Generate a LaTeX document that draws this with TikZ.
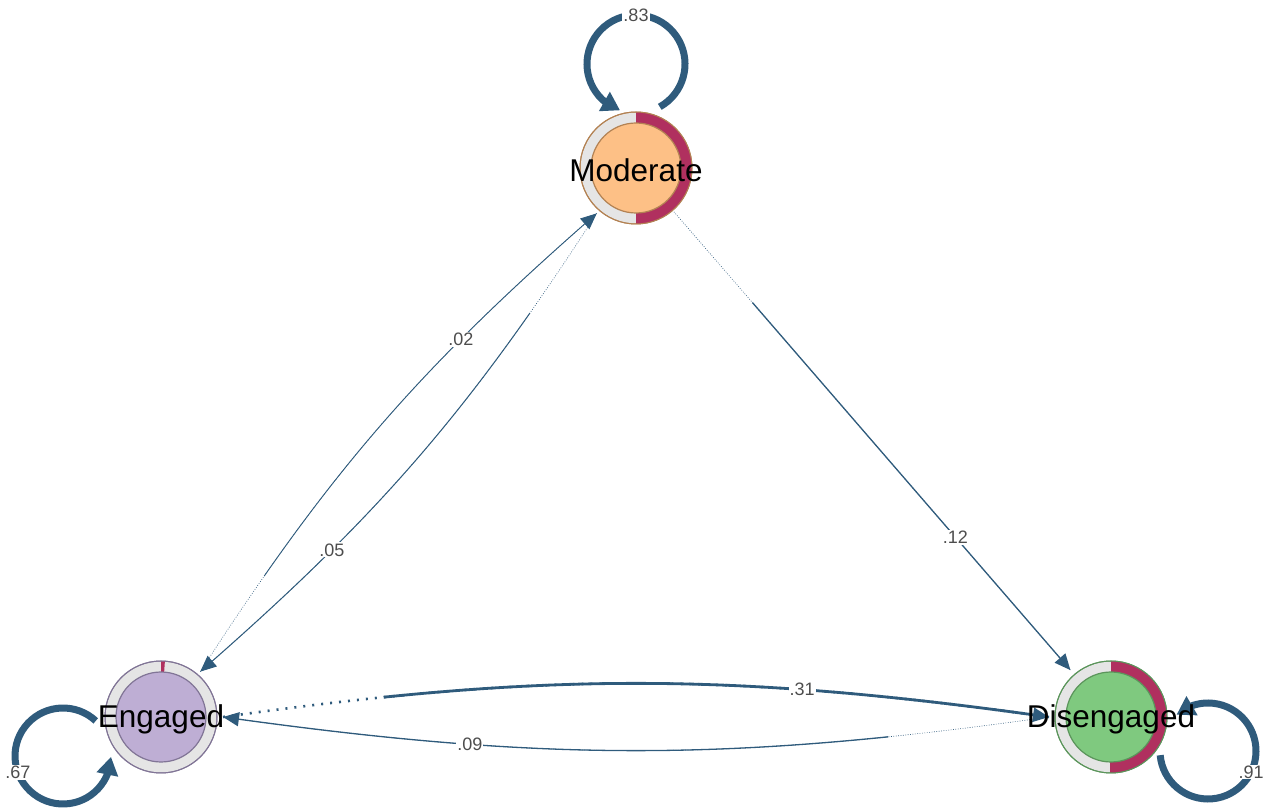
\documentclass[tikz,border=0pt]{standalone}
\usepackage{fontspec}
\setmainfont{Liberation Sans}
\usetikzlibrary{calc,arrows.meta,bending}
\definecolor{edgecol}{HTML}{2F5B7C}
\definecolor{piered}{HTML}{B0305F}
\definecolor{ringgray}{HTML}{E5E5E5}
\definecolor{lblgray}{HTML}{4D4D4D}
\definecolor{Mfill}{HTML}{FDC086}
\definecolor{Mbord}{HTML}{B38253}
\definecolor{Efill}{HTML}{BEAED4}
\definecolor{Ebord}{HTML}{817596}
\definecolor{Dfill}{HTML}{7FC97F}
\definecolor{Dbord}{HTML}{5B955B}
\begin{document}
\begin{tikzpicture}[x=1pt,y=1pt,
  ring/.style={circle, minimum size=112pt, inner sep=0pt, outer sep=0pt, fill=ringgray, draw=#1, line width=1pt},
  core/.style={circle, minimum size=90pt, inner sep=0pt, outer sep=0pt, draw=#1, line width=1.2pt},
  statetext/.style={font=\fontsize{31.5}{36}\selectfont, text=black, inner sep=0pt, yshift=-2.5pt},
  lbl/.style={font=\fontsize{18}{20}\selectfont, text=lblgray, fill=white, inner sep=1pt},
  tipS/.style={-{Triangle[length=16pt,width=14pt]}},
  tipL/.style={-{Triangle[length=18pt,width=21pt]}},
  dotthin/.style={draw=edgecol, line width=0.6pt, dash pattern=on 0.8pt off 1.6pt},
  dotthick/.style={draw=edgecol, line width=2.6pt, dash pattern=on 2pt off 7pt},
  loopedge/.style={draw=edgecol, line width=7pt, tipL},
]
\useasboundingbox (0,0) rectangle (1278,809);

% ---------- state circles ----------
\node[ring=Mbord] (M) at (636,641) {};
\fill[piered] ($(M)+(90:56pt)$) arc[start angle=90,end angle=-90,radius=56pt]
  -- ($(M)+(-90:45pt)$) arc[start angle=-90,end angle=90,radius=45pt] -- cycle;
\draw[Mbord, line width=1pt] (M.center) circle[radius=56pt];
\node[core=Mbord, fill=Mfill] (Mc) at (M) {};

\node[ring=Ebord] (E) at (161,92) {};
\fill[piered] ($(E)+(90:56pt)$) arc[start angle=90,end angle=86,radius=56pt]
  -- ($(E)+(86:45pt)$) arc[start angle=86,end angle=90,radius=45pt] -- cycle;
\draw[Ebord, line width=1pt] (E.center) circle[radius=56pt];
\node[core=Ebord, fill=Efill] (Ec) at (E) {};

\node[ring=Dbord] (D) at (1111,92) {};
\fill[piered] ($(D)+(90:56pt)$) arc[start angle=90,end angle=-91,radius=56pt]
  -- ($(D)+(-91:45pt)$) arc[start angle=-91,end angle=90,radius=45pt] -- cycle;
\draw[Dbord, line width=1pt] (D.center) circle[radius=56pt];
\node[core=Dbord, fill=Dfill] (Dc) at (D) {};

% ---------- edge end points ----------
\coordinate (emA) at ($(E)!60pt!(M)$);
\coordinate (emB) at ($(M)!60pt!(E)$);
\coordinate (mdA) at ($(M)!58pt!(D)$);
\coordinate (mdB) at ($(D)!62pt!(M)$);
\coordinate (edA) at ($(E)!62pt!(D)$);
\coordinate (edB) at ($(D)!62pt!(E)$);

% Engaged -> Moderate (.02)
\draw[dotthin] (emA) to[bend left=8] (emB);
\draw[edgecol, line width=0.9pt, dash pattern=on 0pt off 115pt on 3000pt, tipS]
  (emA) to[bend left=8] node[lbl, pos=0.71] {.02} (emB);
% Moderate -> Engaged (.05)
\draw[dotthin] (emB) to[bend left=8] (emA);
\draw[edgecol, line width=1pt, dash pattern=on 0pt off 120pt on 3000pt, tipS]
  (emB) to[bend left=8] node[lbl, pos=0.72] {.05} (emA);
% Moderate -> Disengaged (.12)
\draw[dotthin] (mdA) -- (mdB);
\draw[edgecol, line width=1.3pt, dash pattern=on 0pt off 120pt on 3000pt, tipS]
  (mdA) -- node[lbl, pos=0.71] {.12} (mdB);
% Engaged -> Disengaged (.31)
\draw[dotthick] (edA) to[bend left=8] (edB);
\draw[edgecol, line width=2.8pt, dash pattern=on 0pt off 162pt on 3000pt, tipS]
  (edA) to[bend left=8] node[lbl, pos=0.715] {.31} (edB);
% Disengaged -> Engaged (.09)
\draw[dotthin] (edB) to[bend left=8] (edA);
\draw[edgecol, line width=1.3pt, dash pattern=on 0pt off 162pt on 3000pt, tipS]
  (edB) to[bend left=8] node[lbl, pos=0.715] {.09} (edA);

% ---------- self loops ----------
\coordinate (Ml) at ($(M)+(0,104)$);
\draw[loopedge] ($(Ml)+(-61:49pt)$) arc[start angle=-61, end angle=251, radius=49pt];
\node[lbl] (Mll) at ($(Ml)+(90:49pt)$) {.83};

\coordinate (El) at ($(E)+(-98,-39)$);
\draw[loopedge] ($(El)+(47:48pt)$) arc[start angle=47, end angle=359, radius=48pt];
\node[lbl] (Ell) at ($(El)+(200:48pt)$) {.67};

\coordinate (Dl) at ($(D)+(97,-34)$);
\draw[loopedge] ($(Dl)+(185:48pt)$) arc[start angle=185, end angle=491, radius=48pt];
\node[lbl] (Dll) at ($(Dl)+(334:48pt)$) {.91};

% ---------- state labels ----------
\node[statetext] (Mt) at (M) {Moderate};
\node[statetext] (Et) at (E) {Engaged};
\node[statetext] (Dt) at (D) {Disengaged};
\end{tikzpicture}
\end{document}
